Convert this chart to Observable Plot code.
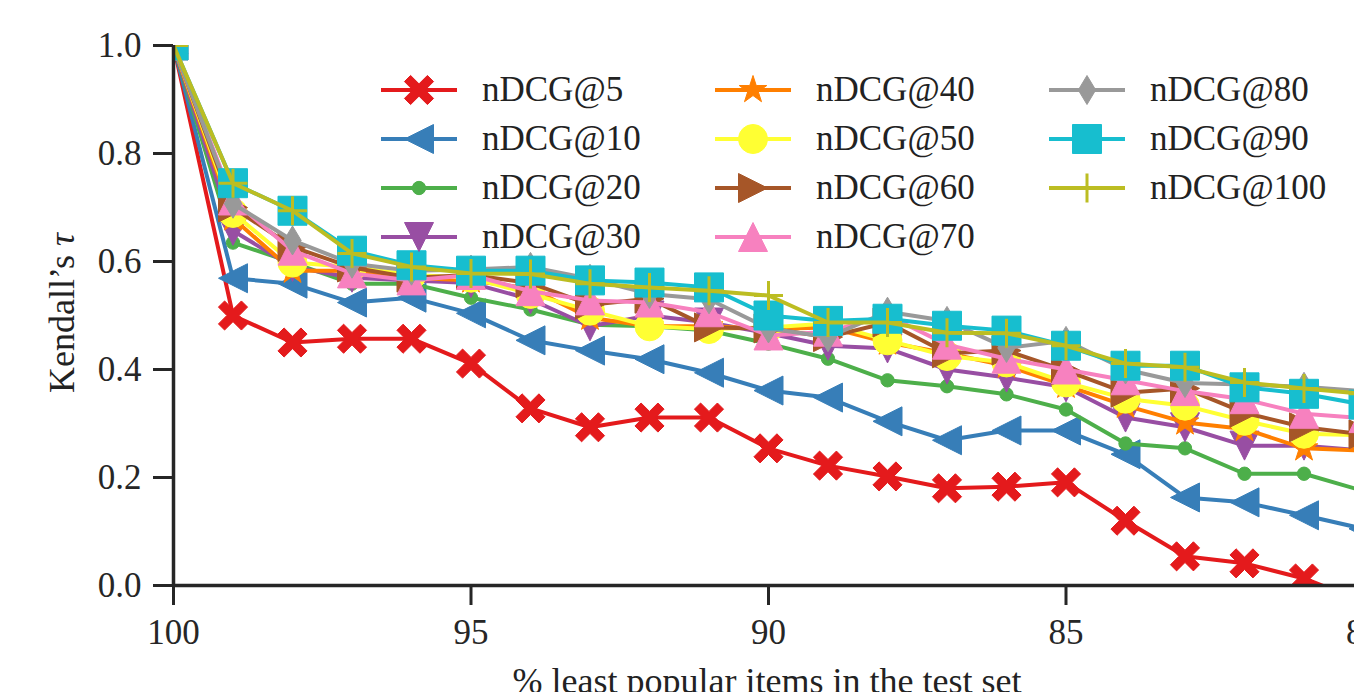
<!DOCTYPE html>
<html><head><meta charset="utf-8">
<script src="https://cdn.jsdelivr.net/npm/d3@7"></script>
<script src="https://cdn.jsdelivr.net/npm/@observablehq/plot@0.6"></script>
<style>
html,body{margin:0;padding:0;overflow:hidden;background:#fff;}
#wrap{position:relative;width:1354px;height:692px;overflow:hidden;}
#wrap > svg{position:absolute;left:0;top:0;}
.item{position:absolute;display:flex;align-items:center;font-family:"Liberation Serif",serif;font-size:35px;color:#222;white-space:nowrap;}
.item svg{display:block;flex:none;}
.lab{position:absolute;font-family:"Liberation Serif",serif;font-size:36px;color:#222;white-space:nowrap;}
</style></head><body><div id="wrap"></div>
<script>
const xs = [100,99,98,97,96,95,94,93,92,91,90,89,88,87,86,85,84,83,82,81,80];
const series = ["nDCG@5","nDCG@10","nDCG@20","nDCG@30","nDCG@40","nDCG@50","nDCG@60","nDCG@70","nDCG@80","nDCG@90","nDCG@100"];
const colors = ["#e41a1c","#377eb8","#4daf4a","#984ea3","#ff7f00","#ffff33","#a65628","#f781bf","#999999","#17becf","#bcbd22"];
const markers = ["X","<",".","v","*","o",">","^","d","s","+"];
const xTicks = [100,95,90,85,80];
const yTicks = [0,0.2,0.4,0.6,0.8,1.0];

const v5   = [1.0,0.50,0.45,0.457,0.457,0.411,0.328,0.293,0.311,0.311,0.254,0.222,0.202,0.18,0.183,0.191,0.12,0.054,0.041,0.013,-0.03];
const v10  = [1.0,0.569,0.559,0.524,0.533,0.504,0.454,0.435,0.419,0.394,0.361,0.348,0.304,0.269,0.287,0.287,0.243,0.163,0.154,0.13,0.105];
const v20  = [1.0,0.635,0.598,0.559,0.559,0.533,0.511,0.483,0.48,0.472,0.448,0.42,0.38,0.369,0.354,0.326,0.263,0.254,0.207,0.207,0.175];
const v30  = [1.0,0.657,0.59,0.57,0.565,0.56,0.53,0.48,0.50,0.487,0.467,0.444,0.439,0.40,0.385,0.367,0.311,0.293,0.259,0.259,0.25];
const v40  = [1.0,0.68,0.583,0.583,0.57,0.565,0.55,0.496,0.48,0.48,0.475,0.478,0.45,0.43,0.407,0.37,0.333,0.302,0.29,0.254,0.25];
const v50  = [1.0,0.69,0.598,0.59,0.575,0.57,0.54,0.509,0.48,0.475,0.478,0.485,0.454,0.425,0.413,0.376,0.346,0.333,0.305,0.281,0.278];
const v60  = [1.0,0.70,0.627,0.589,0.57,0.575,0.56,0.52,0.531,0.478,0.476,0.46,0.487,0.43,0.435,0.398,0.357,0.365,0.32,0.293,0.28];
const v70  = [1.0,0.713,0.62,0.578,0.565,0.575,0.545,0.528,0.524,0.506,0.463,0.47,0.50,0.446,0.42,0.40,0.38,0.36,0.345,0.318,0.31];
const v80  = [1.0,0.707,0.639,0.596,0.583,0.585,0.59,0.568,0.54,0.53,0.476,0.46,0.507,0.49,0.44,0.453,0.40,0.375,0.372,0.368,0.36];
const v90  = [1.0,0.745,0.694,0.62,0.593,0.583,0.583,0.565,0.561,0.552,0.50,0.49,0.494,0.481,0.472,0.444,0.407,0.407,0.367,0.355,0.335];
const v100 = [1.0,0.745,0.694,0.615,0.59,0.578,0.577,0.559,0.552,0.546,0.537,0.487,0.487,0.468,0.467,0.444,0.411,0.404,0.376,0.365,0.355];
const values = [v5,v10,v20,v30,v40,v50,v60,v70,v80,v90,v100];

function poly(p, pts){ p.moveTo(pts[0][0], pts[0][1]); for (let i=1;i<pts.length;i++) p.lineTo(pts[i][0], pts[i][1]); p.closePath(); }
const shapes = {
  "X": (p,r)=>{ const w=0.3*r, L=1.12*r, c=Math.SQRT1_2;
    const pts=[[w,L],[w,w],[L,w],[L,-w],[w,-w],[w,-L],[-w,-L],[-w,-w],[-L,-w],[-L,w],[-w,w],[-w,L]];
    poly(p, pts.map(([x,y])=>[(x-y)*c,(x+y)*c])); },
  "<": (p,r)=>poly(p,[[-r,0],[r,-r],[r,r]]),
  ">": (p,r)=>poly(p,[[r,0],[-r,-r],[-r,r]]),
  "^": (p,r)=>poly(p,[[0,-r],[r,r],[-r,r]]),
  "v": (p,r)=>poly(p,[[0,r],[r,-r],[-r,-r]]),
  ".": (p,r)=>{ const q=0.46*r; p.moveTo(q,0); p.arc(0,0,q,0,2*Math.PI); },
  "o": (p,r)=>{ p.moveTo(r,0); p.arc(0,0,r,0,2*Math.PI); },
  "*": (p,r)=>{ const pts=[]; const ri=0.382*r;
    for (let k=0;k<10;k++){ const a=-Math.PI/2+k*Math.PI/5; const rr=k%2?ri:r; pts.push([rr*Math.cos(a), rr*Math.sin(a)]); }
    poly(p,pts); },
  "d": (p,r)=>poly(p,[[0,-r],[0.6*r,0],[0,r],[-0.6*r,0]]),
  "s": (p,r)=>poly(p,[[-r,-r],[r,-r],[r,r],[-r,r]]),
  "+": (p,r)=>{ p.moveTo(-r,0); p.lineTo(r,0); p.moveTo(0,-r); p.lineTo(0,r); }
};
const symbolOf = m => ({draw(ctx,size){ const r=Math.sqrt(size/Math.PI); shapes[m](ctx,r); }});

const R = 14.5;
const LW = 4;
const marks = [];
series.forEach((s,i)=>{
  const rows = xs.map((x,j)=>({x, y: values[i][j], s}));
  const m = markers[i];
  marks.push(Plot.line(rows, {x:"x", y:"y", stroke: colors[i], strokeWidth: LW, clip: true}));
  if (m === "+") {
    marks.push(Plot.dot(rows, {x:"x", y:"y", symbol: symbolOf(m), r: R, fill: "none", stroke: colors[i], strokeWidth: 3, clip: true}));
  } else {
    marks.push(Plot.dot(rows, {x:"x", y:"y", symbol: symbolOf(m), r: R, fill: colors[i], stroke: colors[i], strokeWidth: 1, clip: true}));
  }
});
marks.push(Plot.ruleX([100], {stroke:"#262626", strokeWidth:3.5}));
marks.push(Plot.ruleY([0], {stroke:"#262626", strokeWidth:3.5}));
marks.push(Plot.axisX({ticks: xTicks, tickFormat: d3.format("d"), tickSize: 20, tickPadding: 14, stroke:"#262626", strokeWidth: 3, label: null}));
marks.push(Plot.axisY({ticks: yTicks, tickFormat: d3.format(".1f"), tickSize: 20, tickPadding: 12, stroke:"#262626", strokeWidth: 3, label: null}));

const chart = Plot.plot({
  width: 1354, height: 692,
  marginLeft: 173, marginRight: 0, marginTop: 45, marginBottom: 107,
  x: {domain: [100, 80], range: [173, 1363]},
  y: {domain: [0, 1]},
  style: {fontFamily: '"Liberation Serif", serif', fontSize: "35px", color: "#262626", background: "white", overflow: "visible"},
  marks
});
const wrap = document.getElementById("wrap");
wrap.appendChild(chart);

// axis labels
const xl = document.createElement("div");
xl.className = "lab"; xl.textContent = "% least popular items in the test set";
xl.style.left = "767px"; xl.style.top = "660px"; xl.style.transform = "translateX(-50%)";
wrap.appendChild(xl);
const yl = document.createElement("div");
yl.className = "lab"; yl.innerHTML = "Kendall’s <i>τ</i>";
yl.style.left = "62px"; yl.style.top = "313px"; yl.style.transform = "translate(-50%,-50%) rotate(-90deg)";
wrap.appendChild(yl);

// legend
const colX = [381, 715, 1049];
const rowY = [90, 139, 188, 237];
series.forEach((s,i)=>{
  const col = Math.floor(i/4), row = i%4;
  const item = document.createElement("div");
  item.className = "item";
  item.style.left = colX[col] + "px";
  item.style.top = (rowY[row] - 20) + "px";
  item.style.height = "40px";
  const svg = d3.create("svg").attr("width", 76).attr("height", 40).style("overflow","visible");
  svg.append("line").attr("x1",0).attr("x2",76).attr("y1",20).attr("y2",20).attr("stroke",colors[i]).attr("stroke-width",LW);
  const p = d3.path(); shapes[markers[i]](p, R);
  const g = svg.append("path").attr("d", p.toString()).attr("transform","translate(38,20)");
  if (markers[i] === "+") g.attr("fill","none").attr("stroke",colors[i]).attr("stroke-width",3);
  else g.attr("fill",colors[i]).attr("stroke",colors[i]).attr("stroke-width",1);
  item.appendChild(svg.node());
  const t = document.createElement("span");
  t.textContent = s; t.style.marginLeft = "25px";
  item.appendChild(t);
  wrap.appendChild(item);
});
</script></body></html>
